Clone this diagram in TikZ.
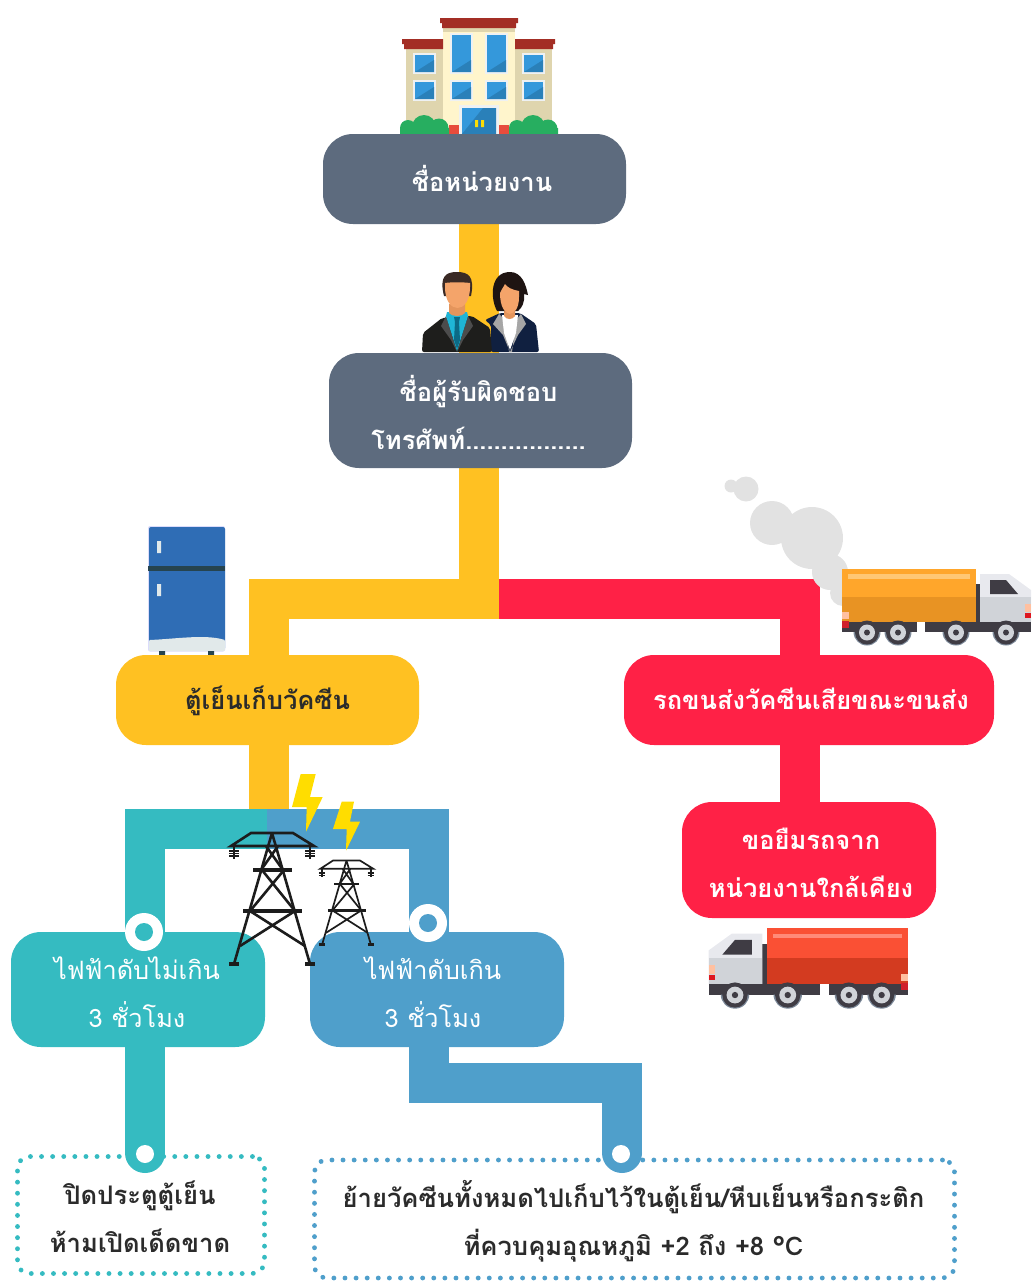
\documentclass[tikz,border=0pt]{standalone}
\usepackage{fontspec}
\newfontfamily\thaifont[Script=Thai]{Loma}
\usetikzlibrary{backgrounds}
\definecolor{cgray}{HTML}{5D6B7E}
\definecolor{cyel}{HTML}{FFC122}
\definecolor{cred}{HTML}{FF2146}
\definecolor{cteal}{HTML}{35BBC1}
\definecolor{cblue}{HTML}{4F9FCB}
\definecolor{csmoke}{HTML}{E2E2E2}
\definecolor{cglass}{HTML}{3498DB}
\definecolor{cglassd}{HTML}{2A80B9}
\definecolor{cframe}{HTML}{EEF1F3}
\definecolor{cwing}{HTML}{DFD5AE}
\definecolor{cwall}{HTML}{FFF5CC}
\definecolor{croof}{HTML}{A32E25}
\definecolor{cbush}{HTML}{27AE60}
\definecolor{cskin}{HTML}{F4A46A}
\definecolor{cneck}{HTML}{E4955C}
\definecolor{ctower}{HTML}{1C1C1C}
\definecolor{cbolt}{HTML}{FFDD00}
\definecolor{cdark}{HTML}{3F3C44}
\definecolor{cwout}{HTML}{7D8A9A}
\definecolor{ccabl}{HTML}{D0D3D8}
\definecolor{ccabt}{HTML}{E8E9EE}
\definecolor{cfridge}{HTML}{2F6DB5}
\definecolor{cband}{HTML}{26444F}
\definecolor{csnow}{HTML}{E1E9EA}
\definecolor{cjack}{HTML}{1E1E1C}
\definecolor{cnavy}{HTML}{102040}
\definecolor{chairm}{HTML}{3A2A25}
\definecolor{chairw}{HTML}{1E1412}
\definecolor{cpale}{HTML}{FFC0A0}
\definecolor{clamp}{HTML}{D0202C}
\definecolor{ctxt}{HTML}{2B2B2B}
\definecolor{cshirt}{HTML}{1FB5D6}
\definecolor{ctie}{HTML}{0C6A86}
\definecolor{cbase}{HTML}{E74C3C}
\definecolor{tr1}{HTML}{FA5034}
\definecolor{tr2}{HTML}{D33B20}
\definecolor{tr3}{HTML}{FF8A78}
\definecolor{to1}{HTML}{FFA62B}
\definecolor{to2}{HTML}{E89323}
\definecolor{to3}{HTML}{FFC773}
\tikzset{
  box/.style={rounded corners=30pt,minimum width=#1,inner sep=0pt,outer sep=0pt,align=center,text=white,
    font=\thaifont\bfseries\fontsize{25.5}{48}\selectfont},
  thin box/.style={box=#1,font=\thaifont\fontsize{25.3}{48}\selectfont},
  dotbox/.style={rounded corners=12pt,minimum width=#1,inner sep=0pt,outer sep=0pt,align=center,text=ctxt,
    line width=4.8pt,line cap=round,dash pattern=on 0.1pt off 11pt,
    font=\thaifont\bfseries\fontsize{25.6}{48}\selectfont},
  bar/.style={line width=40pt,line join=miter},
  ring/.style={circle,fill=white,draw=none,minimum size=38pt,inner sep=0pt},
  hole/.style={circle,minimum size=18pt,inner sep=0pt},
}
\newcommand{\nudge}[3]{\hspace*{\dimexpr 2\dimexpr#1pt\relax\relax}\raisebox{-#2pt}[\height][\depth]{\begin{tabular}{@{}c@{}}#3\end{tabular}}}
\newcommand{\win}[4]{%
  \fill[cframe] (#1-2.2,#2-2.2) rectangle (#3+2.2,#4+2.2);
  \fill[cglass] (#1,#2) rectangle (#3,#4);
  \fill[cglassd] (#1,#4) -- (#3,#4-12) -- (#3,#4) -- cycle;
}
\newcommand{\wheel}[1]{%
  \fill[cwout] (#1,10) ++(-13.5,0) arc (180:0:13.5) -- cycle;
  \fill[cdark] (#1,10.5) circle (12);
  \fill[ccabl] (#1,10.5) circle (8);
  \fill[cdark] (#1,10.5) circle (3);
}
\newcommand{\truckbody}[3]{%
  \fill[#1] (0,-53.5) rectangle (134,-25);
  \fill[#2] (0,-25) rectangle (134,0);
  \fill[#3] (6,-48) rectangle (128,-43.5);
  \fill[cdark] (134,-38) rectangle (139,0);
  \fill[ccabt] (138,-48) -- (167,-48) -- (189,-32) -- (189,0) -- (138,0) -- cycle;
  \fill[ccabl] (138,-25) -- (189,-25) -- (189,0) -- (138,0) -- cycle;
  \fill[cdark] (148,-42) -- (164,-42) -- (176,-28) -- (148,-28) -- cycle;
  \fill[cdark] (0,0) rectangle (75,10);
  \fill[cdark] (83,0) rectangle (189,10);
  \fill[cpale] (0,-10) rectangle (7,-3);
  \fill[clamp] (0,-1) rectangle (7,6);
  \fill[cpale] (183,-18) rectangle (189,-10);
  \fill[clamp!70!red] (183,-9) rectangle (189,-4);
  \wheel{25}\wheel{56}\wheel{114}\wheel{164}
}
\newcommand{\towerbody}[3]{%
  \begin{scope}[shift={#1},x=#2pt,y=-#2pt,line cap=butt,draw=ctower,line width=#3pt]
  \draw (-41,13) -- (-21,0) -- (21,0) -- (42,13) -- cycle;
  \draw (0,0) -- (-38,131) (0,0) -- (38,131);
  \draw (-6,13) -- (11,37) (6,13) -- (-11,37) (-10,37) -- (23,78) (12,37) -- (-22,78)
        (-22,78) -- (33,113) (23,78) -- (-32,113);
  \draw[line width=1.5*#3pt] (-19,37) -- (20,37) (-29,78) -- (30,78);
  \draw[line width=1.9*#3pt] (-43,131) -- (-33,131) (33,131) -- (43,131);
  \foreach \s in {-38,38}{
    \draw (\s,13) -- (\s,26);
    \draw[line width=0.5*#3pt] (\s-5,18) -- (\s+5,18) (\s-5,20.5) -- (\s+5,20.5) (\s-5,23) -- (\s+5,23);
  }
  \end{scope}
}
\begin{document}
\begin{tikzpicture}[x=1pt,y=-1pt]
\useasboundingbox (0,0) rectangle (1031,1288);
% ---- building
\fill[cwing] (406,49) rectangle (552,134);
\fill[cwall] (443,32) rectangle (515,134);
\fill[cwing] (443,28) rectangle (515,32);
\fill[croof] (440,18) rectangle (518,23) (442,23) rectangle (516,28);
\fill[croof] (402,39) rectangle (443,44) (404,44) rectangle (443,49);
\fill[croof] (515,39) rectangle (555,44) (515,44) rectangle (553,49);
\win{415}{55}{434}{72}\win{415}{82}{434}{99}
\win{524}{55}{543}{72}\win{524}{82}{543}{99}
\win{452}{35}{471}{72}\win{487}{35}{506}{72}
\win{452}{82}{471}{99}\win{487}{82}{506}{99}
\fill[cbase] (449,125) rectangle (509,134);
\fill[cframe] (459,105) rectangle (499,134);
\fill[cglass] (462,108) rectangle (496,134);
\fill[cglassd] (483,108) -- (496,108) -- (496,134) -- (462,134) -- cycle;
\fill[yellow!80!orange] (475,120) rectangle (478,127) (481,120) rectangle (484,127);
\fill[cbush] (408,128) circle (8) (424,127) circle (12) (439,128) circle (9.5)
             (517,128) circle (8) (533,127) circle (12) (548,129) circle (9.5);
\fill[cbush] (400,128) rectangle (449,136) (509,128) rectangle (558,136);
% ---- woman
\fill[cnavy,rounded corners=2pt] (485,320) -- (500,313) -- (520,313) -- (536,324) -- (539,352) -- (491,352) -- (491,325) -- cycle;
\fill[black!35] (493,324) -- (499,314) -- (505,320) -- (509,352) -- (512,352) -- (516,320) -- (521,314) -- (526,324) -- (518,335) -- (510,352) -- (503,335) -- cycle;
\fill[white] (502,315) -- (518,315) -- (516,333) -- (510,350) -- (504,333) -- cycle;
\fill[cneck] (504,305) -- (515,305) -- (515,316) .. controls (513,320) and (506,320) .. (504,316) -- cycle;
\fill[chairw] (497,311) .. controls (490,298) and (490,272) .. (510,272) .. controls (522,272) and (526,285) .. (528,295) -- (524,294) .. controls (525,302) and (522,308) .. (518,311) -- cycle;
\fill[cskin] (500,293) .. controls (500,320) and (519,320) .. (519,297) -- (519,291) .. controls (512,290) and (507,287) .. (505,284) .. controls (503,288) and (501,290) .. (500,293) -- cycle;
% ---- man
\fill[cjack,rounded corners=2pt] (422,352) -- (423,333) -- (442,318) -- (472,316) -- (490,328) -- (492,352) -- cycle;
\fill[black!70] (441,326) -- (446,316) -- (457,352) -- (468,316) -- (473,326) -- (463,340) -- (457,352) -- (451,340) -- cycle;
\fill[cshirt] (447,312) -- (467,312) -- (468,316) -- (457,351) -- (446,316) -- cycle;
\fill[ctie] (454,317) -- (460,317) -- (459,322) -- (460,340) -- (457,349) -- (454,340) -- (455,322) -- cycle;
\fill[cneck] (449,304) -- (465,304) -- (465,313) .. controls (462,317) and (452,317) .. (449,313) -- cycle;
\fill[chairm] (444,296) .. controls (439,276) and (446,272) .. (457,272) .. controls (468,272) and (475,276) .. (471,296) -- cycle;
\fill[cskin] (445,287) .. controls (445,315) and (470,315) .. (470,287) -- (470,283) .. controls (462,282) and (452,282) .. (445,283) -- cycle;
% ---- fridge
\fill[csnow!60!blue!30!white,rounded corners=2pt] (148,526) rectangle (225,651.5);
\fill[cfridge,rounded corners=2pt] (149,527) rectangle (225,650);
\fill[cband] (148,566) rectangle (225,571);
\fill[csnow] (157,541) rectangle (161,553) (157,584) rectangle (161,596);
\fill[csnow,rounded corners=1pt] (149,640) .. controls (175,639) and (205,634) .. (225,640) -- (225,651) -- (149,651) -- cycle;
\fill[cband] (159,651) rectangle (165,655) (208,651) rectangle (214,655);
% ---- smoke
\fill[csmoke] (746,489) circle (12.5) (731,486) circle (6.5) (772,523) circle (22)
  (812,538) circle (31) (830,572) circle (18) (843,593) circle (13);
% ---- nodes
\node[box=303pt,minimum height=90pt,fill=cgray] (unit) at (474.5,179) {\nudge{7.5}{2.5}{ชื่อหน่วยงาน}};
\node[box=303pt,minimum height=115pt,fill=cgray] (resp) at (480.5,410.5) {\nudge{-2}{5}{ชื่อผู้รับผิดชอบ\\โทรศัพท์.................}};
\node[box=303pt,minimum height=90pt,fill=cyel,text=ctxt] (fridge) at (267.5,700) {\nudge{0}{0}{ตู้เย็นเก็บวัคซีน}};
\node[box=370pt,minimum height=90pt,fill=cred] (spoil) at (809,700) {\nudge{2}{0}{รถขนส่งวัคซีนเสียขณะขนส่ง}};
\node[box=254pt,minimum height=116pt,fill=cred] (borrow) at (809,860) {\nudge{2}{4}{ขอยืมรถจาก\\หน่วยงานใกล้เคียง}};
\node[thin box=254pt,minimum height=115pt,fill=cteal] (less) at (138,989.5) {\nudge{-1}{4}{ไฟฟ้าดับไม่เกิน\\3 ชั่วโมง}};
\node[thin box=254pt,minimum height=115pt,fill=cblue] (more) at (437,989.5) {\nudge{-4}{4}{ไฟฟ้าดับเกิน\\3 ชั่วโมง}};
\node[dotbox=247pt,minimum height=117pt,draw=cteal] (close) at (141,1215) {\nudge{-1}{4}{ปิดประตูตู้เย็น\\ห้ามเปิดเด็ดขาด}};
\node[dotbox=640pt,minimum height=118pt,draw=cblue] (move) at (634.5,1219) {\nudge{-1}{3}{ย้ายวัคซีนทั้งหมดไปเก็บไว้ในตู้เย็น/หีบเย็นหรือกระติก\\ที่ควบคุมอุณหภูมิ +2 ถึง +8 °C}};
% ---- connector coordinates
\coordinate (j2) at (499,599);
\coordinate (j3) at (479,619);
\coordinate (j4) at (267,829);
\coordinate (tend) at (145,1153);
\coordinate (bend) at (622,1153);
\begin{pgfonlayer}{background}
\draw[bar,cyel] (unit.south -| j3) -- (resp.north -| j3);
\draw[bar,cyel] (resp.south -| j3) -- (j3);
\draw[bar,cyel] (j2) -- (269,599) -- (269,655);
\draw[bar,cyel] (269,745) -- (269,809);
\draw[bar,cred] (j2) -- (800,599) -- (800,655);
\draw[bar,cred] (800,745) -- (800,802);
\draw[bar,cteal] (j4) -- (145,829) -- (145,932);
\draw[bar,cblue] (j4) -- (429,829) -- (429,932);
\draw[bar,cteal,line cap=round] (145,1040) -- (tend);
\draw[bar,cblue] (429,1047) -- (429,1083) -- (622,1083) -- (bend);
\fill[cblue] (bend) circle (20);
\end{pgfonlayer}
% ---- rings and dots
\node[ring] (r1) at (144,932) {};
\node[hole,fill=cteal] (h1) at (144,932) {};
\node[ring] (r2) at (428,923) {};
\node[hole,fill=cblue] (h2) at (428,923) {};
\node[hole,fill=white] (d1) at (145,1154) {};
\node[hole,fill=white] (d2) at (621,1154) {};
% ---- towers and bolts
\towerbody{(272,833)}{1}{2.6}
\towerbody{(346.5,860.5)}{0.64}{1.7}
\fill[cbolt] (300.7,774) -- (315.7,774) -- (310,797) -- (322.7,797) -- (306,831.7) -- (306.7,807) -- (292,807) -- cycle;
\fill[cbolt] (341.7,801.7) -- (354,801.7) -- (350,821.7) -- (360,821.7) -- (346,850.7) -- (346.7,829) -- (333,829) -- cycle;
% ---- trucks
\begin{scope}[shift={(842,622)}]
\truckbody{to1}{to2}{to3}
\end{scope}
\begin{scope}[shift={(908,984)},xscale=-1.055,yscale=1.05]
\truckbody{tr1}{tr2}{tr3}
\end{scope}
\end{tikzpicture}
\end{document}
